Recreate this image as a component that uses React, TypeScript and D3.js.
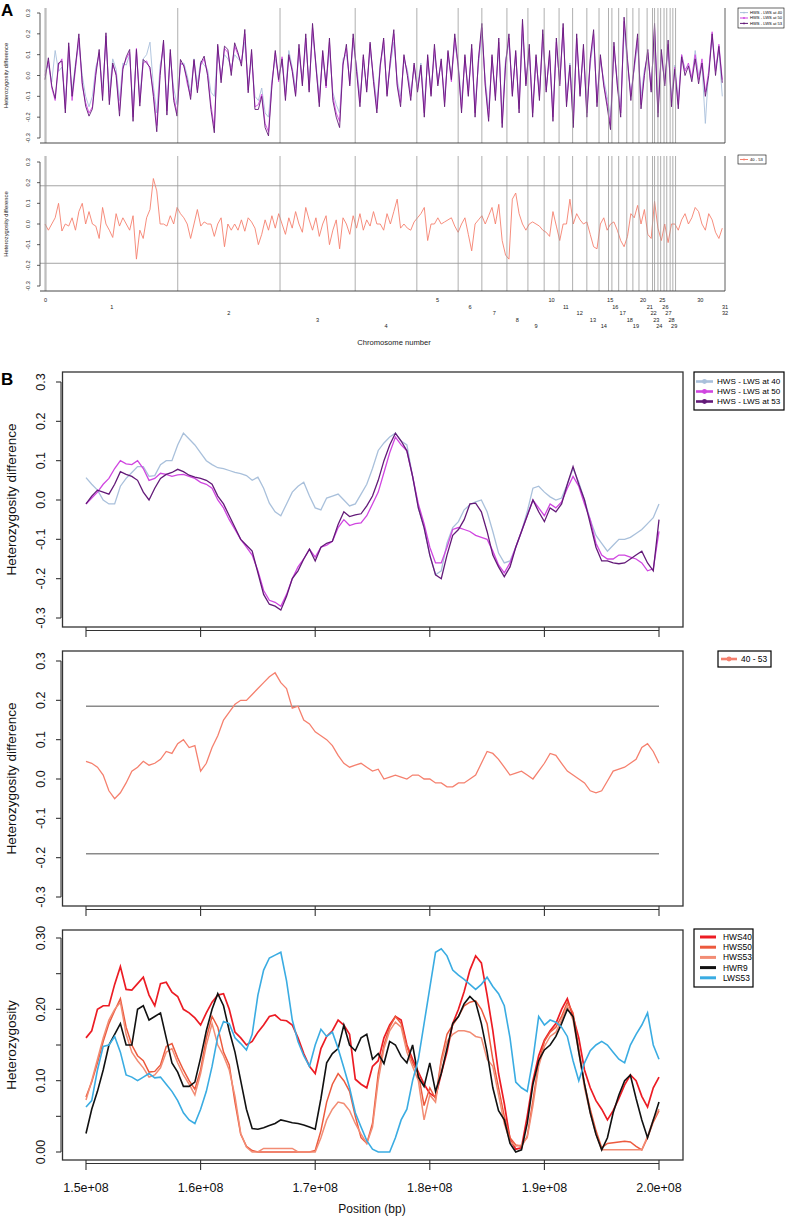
import React from 'react';
import * as d3 from 'd3';

const FONT = '"Liberation Sans", Arial, Helvetica, sans-serif';

// ---------- Panel A: genome-wide scan (5 Mb steps, cumulative Mb) ----------
const A_STEP_MB = 5;
const chromBoundsMb = [
  0, 1.5, 196, 347, 458, 549, 610, 645, 682, 713,
  737, 759, 779, 800, 818, 832, 837, 847, 859, 868,
  877, 889, 897, 900, 905, 909, 914, 918, 923, 927,
  931, 1004, 1004, 1004,
];
const chromNames = [
  '0', '1', '2', '3', '4', '5', '6', '7', '8', '9', '10', '11', '12', '13', '14', '15', '16',
  '17', '18', '19', '20', '21', '22', '23', '24', '25', '26', '27', '28', '29', '30', '31', '32',
];
const diffTicks = [-0.3, -0.2, -0.1, 0, 0.1, 0.2, 0.3];
const thresholds = [0.185, -0.19];

const genomeDiff53 = [
  -0.02, 0.085, -0.05, -0.11, 0.06, 0.07, -0.18, 0.157, -0.1, 0.045,
  0.2, -0.035, -0.147, -0.195, -0.16, 0.0, 0.125, -0.12, 0.205, -0.14,
  0.06, 0.0, -0.195, 0.03, 0.09, 0.125, -0.22, 0.125, -0.147, 0.077,
  0.06, 0.04, -0.1, -0.27, 0.0, 0.17, -0.19, 0.125, -0.12, -0.195,
  0.077, 0.045, -0.02, -0.115, 0.077, -0.083, 0.06, 0.093, 0.0, -0.163,
  -0.275, 0.15, -0.035, 0.141, 0.125, 0.0, 0.157, 0.109, 0.045, 0.221,
  -0.083, 0.125, -0.163, -0.163,
  -0.1, -0.25, -0.29, -0.05, 0.12, -0.02, 0.08, -0.12, 0.1, 0.02,
  -0.1, 0.15, -0.05, 0.2, -0.08, 0.25, 0.05, -0.15, 0.12, -0.05,
  0.18, -0.12, -0.2, -0.25, 0.05, 0.15, -0.05, 0.2, 0.02, -0.15,
  0.1, -0.08, 0.16, -0.03, -0.18, 0.05, 0.18, -0.1, 0.08, 0.22,
  -0.05, -0.15, 0.1, 0.0, -0.12, 0.06, -0.08,
  0.05, -0.2, 0.1, -0.1, 0.15, -0.05, 0.08, -0.15, 0.12, -0.02,
  0.2, 0.05, -0.18, 0.1, -0.1, 0.15, -0.2, 0.08, 0.25, -0.05,
  -0.22, 0.1, -0.12, 0.18, -0.25, 0.05, 0.2, -0.1, 0.12, -0.18,
  0.27, -0.05, 0.15, -0.2, 0.1, -0.12, 0.22, -0.08, 0.12, -0.22,
  0.18, -0.05, 0.25, -0.15, 0.05, -0.25, 0.2, -0.1, 0.15, -0.2,
  0.08, 0.22, -0.15, 0.1,
  -0.05, -0.15, -0.26, 0.16, -0.05, -0.2, 0.28, 0.08, -0.12, 0.05,
  0.2, -0.16, 0.0, 0.125, -0.08, 0.25, -0.2, 0.125, -0.05, 0.17,
  -0.15, 0.03, -0.16, 0.09, 0.0, 0.045, -0.03, 0.08, -0.04, 0.06,
  -0.1, 0.0, 0.2, 0.0, 0.14, -0.035,
];

const genomeDiff50 = [
  0.0, 0.07, -0.06, -0.12, 0.05, 0.08, -0.16, 0.14, -0.12, 0.03,
  0.18, -0.05, -0.13, -0.18, -0.15, 0.02, 0.11, -0.1, 0.19, -0.12,
  0.05, 0.01, -0.17, 0.04, 0.08, 0.11, -0.2, 0.13, -0.13, 0.06,
  0.07, 0.03, -0.08, -0.24, 0.02, 0.16, -0.17, 0.11, -0.1, -0.18,
  0.06, 0.05, -0.04, -0.1, 0.07, -0.07, 0.05, 0.08, 0.01, -0.14,
  -0.25, 0.14, -0.02, 0.13, 0.11, 0.02, 0.14, 0.1, 0.06, 0.2,
  -0.07, 0.11, -0.15, -0.14,
  -0.09, -0.23, -0.27, -0.04, 0.11, -0.03, 0.09, -0.1, 0.09, 0.03,
  -0.09, 0.13, -0.04, 0.18, -0.07, 0.23, 0.04, -0.13, 0.11, -0.06,
  0.16, -0.1, -0.18, -0.22, 0.06, 0.13, -0.04, 0.18, 0.03, -0.13,
  0.09, -0.07, 0.15, -0.02, -0.16, 0.04, 0.17, -0.09, 0.07, 0.2,
  -0.04, -0.13, 0.09, 0.01, -0.1, 0.05, -0.07,
  0.04, -0.18, 0.09, -0.09, 0.13, -0.04, 0.07, -0.13, 0.11, -0.03,
  0.18, 0.04, -0.16, 0.09, -0.09, 0.13, -0.18, 0.07, 0.23, -0.04,
  -0.2, 0.09, -0.1, 0.16, -0.23, 0.06, 0.18, -0.09, 0.11, -0.16,
  0.25, -0.04, 0.13, -0.18, 0.09, -0.1, 0.2, -0.07, 0.1, -0.2,
  0.16, -0.04, 0.23, -0.13, 0.04, -0.23, 0.18, -0.09, 0.13, -0.18,
  0.07, 0.2, -0.13, 0.09,
  -0.04, -0.13, -0.24, 0.14, -0.04, -0.18, 0.26, 0.07, -0.1, 0.04,
  0.18, -0.14, 0.01, 0.11, -0.07, 0.23, -0.18, 0.11, -0.04, 0.15,
  -0.13, 0.04, -0.14, 0.1, 0.02, 0.06, -0.01, 0.1, -0.02, 0.08,
  -0.08, 0.02, 0.21, 0.02, 0.15, -0.02,
];

const genomeDiff40 = [
  0.02, 0.05, -0.03, 0.12, 0.02, 0.04, -0.12, 0.1, -0.08, 0.06,
  0.15, 0.0, -0.1, -0.15, -0.1, 0.04, 0.1, -0.06, 0.16, -0.08,
  0.08, 0.03, -0.12, 0.06, 0.05, 0.1, -0.15, 0.1, -0.1, 0.08,
  0.1, 0.16, -0.05, -0.18, 0.05, 0.13, -0.12, 0.08, -0.06, -0.14,
  0.05, 0.06, 0.0, -0.08, 0.08, -0.04, 0.07, 0.05, 0.03, -0.08,
  -0.1, 0.12, 0.0, 0.1, 0.08, 0.04, 0.1, 0.08, 0.07, 0.16,
  -0.04, 0.08, -0.1, -0.12,
  -0.06, -0.18, -0.2, -0.02, 0.08, 0.0, 0.06, -0.08, 0.12, 0.04,
  -0.06, 0.1, -0.02, 0.15, -0.04, 0.2, 0.06, -0.1, 0.08, -0.03,
  0.12, -0.08, -0.14, -0.18, 0.08, 0.1, -0.02, 0.15, 0.05, -0.1,
  0.06, -0.05, 0.12, 0.0, -0.13, 0.06, 0.14, -0.06, 0.05, 0.16,
  -0.02, -0.1, 0.07, 0.03, -0.08, 0.04, -0.05,
  0.06, -0.14, 0.07, -0.06, 0.1, -0.02, 0.06, -0.1, 0.09, 0.0,
  0.15, 0.06, -0.12, 0.07, -0.06, 0.1, -0.14, 0.05, 0.2, -0.02,
  -0.16, 0.07, -0.08, 0.13, -0.2, 0.08, 0.15, -0.06, 0.09, -0.13,
  0.2, -0.02, 0.1, -0.15, 0.07, -0.08, 0.16, -0.05, 0.08, -0.16,
  0.13, -0.02, 0.2, -0.1, 0.06, -0.18, 0.15, -0.06, 0.1, -0.15,
  0.05, 0.17, -0.1, 0.07,
  -0.02, -0.1, -0.2, 0.12, -0.02, -0.15, 0.22, 0.05, -0.08, 0.03,
  0.15, -0.1, 0.03, 0.09, -0.05, 0.2, -0.15, 0.09, -0.02, 0.12,
  -0.1, 0.05, -0.12, 0.1, 0.03, 0.05, -0.02, 0.12, 0.0, 0.05,
  -0.23, 0.03, 0.18, 0.03, 0.12, -0.1,
];

const genomeDiff40vs53 = [
  0.0, -0.03, 0.0, 0.03, 0.1, -0.034, 0.0, -0.01, 0.03, -0.03,
  0.06, 0.1, 0.0, 0.06, 0.0, -0.01, -0.07, 0.08, 0.0, -0.03,
  -0.065, 0.05, -0.01, 0.03, 0.0, -0.03, 0.04, -0.17, -0.03, -0.07,
  0.03, 0.07, 0.22, 0.16, 0.0, 0.0, -0.01, 0.04, 0.0, 0.08,
  0.05, 0.03, 0.0, -0.07, 0.0, 0.07, -0.01, 0.01, 0.0, 0.0,
  -0.06, 0.0, 0.03, -0.11, 0.0, -0.03, 0.0, -0.03, 0.02, -0.035,
  0.03, 0.01, -0.02, -0.1,
  -0.05, 0.02, -0.03, 0.04, -0.02, 0.05, 0.0, -0.05, 0.03, -0.02,
  0.06, 0.0, -0.04, 0.08, 0.02, -0.03, 0.03, -0.06, 0.0, 0.04,
  -0.1, -0.03, 0.02, -0.12, 0.03, 0.0, -0.05, 0.04, -0.02, 0.05,
  -0.03, 0.02, -0.01, 0.06, 0.0,
  0.0, -0.03, 0.05, 0.0, 0.06, 0.12, -0.02, 0.0, -0.02, -0.03,
  0.01, 0.03, 0.05, 0.08, -0.08, 0.0, 0.0, 0.03, 0.0, 0.01,
  0.02, 0.03, -0.01, -0.04, 0.0, 0.03, -0.05, -0.13, 0.0, 0.02,
  0.04, 0.0, 0.04, 0.08, 0.0, 0.095, -0.08, -0.15, -0.17, 0.12,
  0.15, 0.05, 0.0, -0.03, 0.0, 0.01, 0.0, -0.01, -0.03, -0.04,
  -0.06, 0.06, -0.01, -0.08, 0.0, 0.0, 0.12, 0.0, 0.05, 0.02,
  0.0, 0.01, -0.05, -0.11, -0.12, 0.0, 0.03, -0.03, 0.0, 0.01,
  -0.03, -0.08, -0.11, -0.06, 0.05, 0.03, 0.09, 0.0, 0.07, -0.05,
  -0.07, 0.11, -0.02, -0.08, 0.0, -0.09, 0.0, 0.0, -0.03,
  0.02, 0.05, 0.0, 0.03, 0.08, 0.06, 0.0, -0.03, 0.05, 0.02,
  -0.04, -0.07, -0.02,
];

// ---------- Panel B: chromosome 1, 150-200 Mb, 0.5 Mb steps ----------
const regionStartMb = 150;
const REGION_STEP_MB = 0.5;
const positionTicks = [1.5e8, 1.6e8, 1.7e8, 1.8e8, 1.9e8, 2.0e8];
const positionTickLabels = ['1.5e+08', '1.6e+08', '1.7e+08', '1.8e+08', '1.9e+08', '2.0e+08'];
const hetTicks = [0, 0.05, 0.1, 0.15, 0.2, 0.25, 0.3];
const hetTickLabels = ['0.00', '', '0.10', '', '0.20', '', '0.30'];

const regionDiff40 = [
  0.057, 0.04, 0.025, 0.0, -0.01, -0.01, 0.035, 0.055, 0.07, 0.085,
  0.085, 0.06, 0.062, 0.09, 0.1, 0.1, 0.14, 0.17, 0.155, 0.14,
  0.12, 0.1, 0.09, 0.082, 0.08, 0.075, 0.07, 0.067, 0.062, 0.05,
  0.058, 0.03, -0.008, -0.03, -0.04, -0.01, 0.02, 0.035, 0.045, 0.01,
  -0.02, -0.025, 0.005, 0.01, 0.015, 0.0, -0.015, -0.01, 0.015, 0.04,
  0.08, 0.126, 0.145, 0.16, 0.17, 0.15, 0.14, 0.06, -0.02, -0.07,
  -0.14, -0.19, -0.18, -0.11, -0.07, -0.055, -0.025, -0.012, -0.005, 0.0,
  -0.03, -0.08, -0.135, -0.16, -0.155, -0.12, -0.08, -0.03, 0.03, 0.035,
  0.02, 0.008, 0.0, 0.005, 0.04, 0.08, 0.045, 0.0, -0.05, -0.09,
  -0.11, -0.13, -0.115, -0.1, -0.1, -0.095, -0.085, -0.075, -0.06, -0.045,
  -0.01,
];
const regionDiff50 = [
  -0.01, 0.005, 0.02, 0.04, 0.055, 0.08, 0.1, 0.092, 0.09, 0.1,
  0.08, 0.05, 0.055, 0.068, 0.065, 0.06, 0.064, 0.065, 0.06, 0.055,
  0.045, 0.04, 0.03, 0.0, -0.02, -0.05, -0.075, -0.1, -0.12, -0.14,
  -0.18, -0.23, -0.255, -0.26, -0.27, -0.24, -0.2, -0.17, -0.15, -0.125,
  -0.145, -0.12, -0.115, -0.105, -0.07, -0.05, -0.065, -0.06, -0.058, -0.04,
  -0.01, 0.02, 0.07, 0.12, 0.16, 0.14, 0.125, 0.06, -0.01, -0.06,
  -0.12, -0.16, -0.16, -0.12, -0.075, -0.07, -0.075, -0.08, -0.09, -0.095,
  -0.1, -0.13, -0.165, -0.185, -0.16, -0.12, -0.08, -0.04, 0.0, -0.02,
  -0.04, -0.01, -0.02, -0.005, 0.03, 0.06, 0.035, -0.01, -0.05, -0.11,
  -0.14, -0.15, -0.15, -0.14, -0.14, -0.145, -0.15, -0.16, -0.18, -0.175,
  -0.08,
];
const regionDiff53 = [
  -0.01, 0.01, 0.025, 0.02, 0.015, 0.04, 0.072, 0.065, 0.06, 0.05,
  0.02, 0.0, 0.03, 0.055, 0.065, 0.07, 0.078, 0.072, 0.063, 0.058,
  0.055, 0.05, 0.04, 0.01, -0.01, -0.04, -0.07, -0.1, -0.115, -0.13,
  -0.185, -0.24, -0.265, -0.27, -0.28, -0.245, -0.2, -0.18, -0.15, -0.125,
  -0.155, -0.12, -0.11, -0.105, -0.062, -0.03, -0.042, -0.038, -0.035, -0.015,
  0.01, 0.05, 0.1, 0.14, 0.17, 0.15, 0.125, 0.06, -0.02, -0.07,
  -0.14, -0.19, -0.2, -0.14, -0.09, -0.075, -0.05, -0.01, -0.008, -0.03,
  -0.08, -0.14, -0.17, -0.195, -0.17, -0.12, -0.08, -0.04, 0.0, -0.03,
  -0.055, -0.02, -0.03, -0.01, 0.04, 0.085, 0.04, 0.0, -0.06, -0.12,
  -0.155, -0.155, -0.16, -0.162, -0.16, -0.15, -0.14, -0.13, -0.16, -0.18,
  -0.05,
];
const regionDiff40vs53 = [
  0.045, 0.04, 0.03, 0.01, -0.03, -0.05, -0.035, -0.01, 0.02, 0.03,
  0.045, 0.035, 0.04, 0.05, 0.07, 0.065, 0.09, 0.1, 0.08, 0.085,
  0.02, 0.04, 0.08, 0.11, 0.15, 0.17, 0.19, 0.2, 0.2, 0.215,
  0.23, 0.245, 0.26, 0.27, 0.245, 0.23, 0.18, 0.185, 0.15, 0.14,
  0.12, 0.11, 0.1, 0.085, 0.06, 0.04, 0.03, 0.035, 0.04, 0.03,
  0.02, 0.025, 0.0, 0.005, 0.01, 0.005, 0.0, 0.01, 0.01, 0.0,
  0.0, -0.01, -0.01, -0.02, -0.02, -0.01, -0.01, 0.0, 0.01, 0.04,
  0.07, 0.065, 0.05, 0.03, 0.01, 0.015, 0.02, 0.01, 0.0, 0.02,
  0.04, 0.065, 0.06, 0.04, 0.02, 0.01, 0.0, -0.01, -0.03, -0.035,
  -0.03, -0.005, 0.02, 0.025, 0.03, 0.04, 0.05, 0.08, 0.09, 0.07,
  0.04,
];

const hetHWS40 = [
  0.16, 0.17, 0.2, 0.205, 0.205, 0.235, 0.26, 0.228, 0.227, 0.236,
  0.245, 0.22, 0.205, 0.236, 0.238, 0.224, 0.218, 0.2, 0.195, 0.188,
  0.178, 0.195, 0.21, 0.22, 0.222, 0.2, 0.168, 0.16, 0.15, 0.155,
  0.168, 0.178, 0.19, 0.192, 0.185, 0.184, 0.178, 0.16, 0.138, 0.12,
  0.11, 0.145, 0.162, 0.17, 0.185, 0.178, 0.165, 0.102, 0.095, 0.09,
  0.12, 0.128, 0.16, 0.178, 0.19, 0.185, 0.15, 0.13, 0.112, 0.095,
  0.082, 0.077, 0.11, 0.14, 0.18, 0.2, 0.225, 0.255, 0.275, 0.265,
  0.22, 0.17, 0.11, 0.068, 0.018, 0.004, 0.006, 0.05, 0.1, 0.135,
  0.157, 0.17, 0.18, 0.2, 0.215, 0.19, 0.16, 0.115, 0.09, 0.072,
  0.06, 0.045, 0.058, 0.075, 0.094, 0.108, 0.1, 0.078, 0.063, 0.09,
  0.105,
];
const hetHWS50 = [
  0.077, 0.098, 0.125, 0.155, 0.18, 0.198, 0.215, 0.175, 0.15, 0.135,
  0.128, 0.112, 0.113, 0.122, 0.148, 0.152, 0.132, 0.115, 0.1, 0.088,
  0.115, 0.16, 0.19, 0.175, 0.14, 0.122, 0.07, 0.025, 0.008, 0.002,
  0.0, 0.0, 0.0, 0.0, 0.0, 0.0, 0.0, 0.0, 0.0, 0.0,
  0.002, 0.03, 0.07, 0.095, 0.11, 0.1, 0.085, 0.05, 0.02, 0.012,
  0.04, 0.11, 0.15, 0.175, 0.19, 0.18, 0.148, 0.125, 0.11, 0.065,
  0.09, 0.075, 0.13, 0.165, 0.178, 0.19, 0.205, 0.21, 0.212, 0.2,
  0.18, 0.13, 0.09, 0.05, 0.02, 0.01, 0.008, 0.022, 0.072, 0.125,
  0.155, 0.168, 0.175, 0.19, 0.21, 0.195, 0.145, 0.095, 0.06, 0.03,
  0.006, 0.012, 0.013, 0.014, 0.015, 0.014, 0.008, 0.003, 0.02, 0.042,
  0.058,
];
const hetHWS53 = [
  0.073, 0.1, 0.13, 0.16, 0.185, 0.2, 0.21, 0.165, 0.14, 0.128,
  0.118, 0.105, 0.108, 0.118, 0.14, 0.145, 0.125, 0.108, 0.095, 0.08,
  0.11, 0.15, 0.18, 0.15, 0.135, 0.115, 0.078, 0.026, 0.007, 0.0,
  0.0, 0.005, 0.005, 0.005, 0.005, 0.005, 0.005, 0.0, 0.0, 0.0,
  0.0, 0.02, 0.045, 0.06, 0.07, 0.068, 0.058, 0.04, 0.025, 0.012,
  0.035, 0.1, 0.145, 0.17, 0.182, 0.175, 0.14, 0.12, 0.1, 0.045,
  0.08, 0.07, 0.125, 0.155, 0.165, 0.17, 0.17, 0.168, 0.162, 0.16,
  0.13, 0.12, 0.08, 0.04, 0.015, 0.008, 0.01, 0.02, 0.065, 0.12,
  0.148, 0.162, 0.168, 0.185, 0.205, 0.185, 0.14, 0.09, 0.055, 0.025,
  0.003, 0.003, 0.003, 0.003, 0.003, 0.003, 0.003, 0.003, 0.022, 0.045,
  0.06,
];
const hetHWR9 = [
  0.026, 0.06, 0.085, 0.115, 0.15, 0.165, 0.18, 0.15, 0.15, 0.2,
  0.205, 0.185, 0.19, 0.195, 0.16, 0.125, 0.112, 0.092, 0.092, 0.098,
  0.132, 0.17, 0.2, 0.222, 0.205, 0.17, 0.14, 0.1, 0.06, 0.033,
  0.032, 0.034, 0.037, 0.04, 0.045, 0.043, 0.041, 0.04, 0.038, 0.035,
  0.032, 0.075, 0.125, 0.138, 0.145, 0.178, 0.15, 0.142, 0.16, 0.165,
  0.13, 0.138, 0.124, 0.155, 0.15, 0.134, 0.125, 0.15, 0.105, 0.092,
  0.125, 0.085, 0.11, 0.145, 0.18, 0.19, 0.208, 0.218, 0.21, 0.18,
  0.14, 0.09, 0.058, 0.045, 0.012, 0.0, 0.003, 0.04, 0.095, 0.128,
  0.143, 0.15, 0.162, 0.18, 0.2, 0.19, 0.14, 0.095, 0.055, 0.025,
  0.003, 0.02, 0.055, 0.08, 0.1, 0.108, 0.075, 0.045, 0.02, 0.045,
  0.07,
];
const hetLWS53 = [
  0.063, 0.072, 0.115, 0.148, 0.15, 0.162, 0.14, 0.108, 0.105, 0.1,
  0.105, 0.11, 0.104, 0.105, 0.095, 0.085, 0.072, 0.055, 0.045, 0.04,
  0.06, 0.085, 0.12, 0.162, 0.183, 0.18, 0.16, 0.152, 0.143, 0.165,
  0.22, 0.255, 0.272, 0.276, 0.28, 0.24, 0.185, 0.155, 0.135, 0.12,
  0.15, 0.172, 0.162, 0.168, 0.145, 0.118, 0.09, 0.055, 0.035, 0.016,
  0.004, 0.0, 0.0, 0.0, 0.02, 0.045, 0.06, 0.1, 0.13, 0.18,
  0.23, 0.28, 0.285, 0.275, 0.255, 0.248, 0.242, 0.235, 0.228, 0.235,
  0.245, 0.232, 0.222, 0.205, 0.16, 0.098, 0.09, 0.085, 0.13, 0.19,
  0.178, 0.185, 0.182, 0.175, 0.162, 0.128, 0.1, 0.125, 0.142, 0.15,
  0.155, 0.15, 0.14, 0.13, 0.125, 0.15, 0.165, 0.178, 0.195, 0.15,
  0.13,
];

const C = {
  d40: '#a9c0db',
  d50: '#d046e0',
  d53: '#631a78',
  d4053: '#f5806e',
  hws40: '#ec1c24',
  hws50: '#ec5a3e',
  hws53: '#f28c74',
  hwr9: '#111111',
  lws53: '#3aace2',
  grid: '#9a9a9a',
  axis: '#333333',
};

// scales
const xA = d3.scaleLinear().domain([0, 1004]).range([45, 725]);
const yATop = d3.scaleLinear().domain([-0.3, 0.3]).range([138, 13]);
const yABot = d3.scaleLinear().domain([-0.3, 0.3]).range([286, 162]);

const xB = d3.scaleLinear().domain([1.5e8, 2.0e8]).range([86, 659]);
const yBTop = d3.scaleLinear().domain([-0.3, 0.3]).range([618, 382]);
const yBMid = d3.scaleLinear().domain([-0.3, 0.3]).range([897, 661]);
const yBBot = d3.scaleLinear().domain([0, 0.3]).range([1152, 938]);

const genomePath = (vals: number[], y: d3.ScaleLinear<number, number>) =>
  d3.line<number>().x((_, i) => xA(i * A_STEP_MB)).y(d => y(d))(vals) || '';

const regionPath = (vals: number[], y: d3.ScaleLinear<number, number>) =>
  d3.line<number>().x((_, i) => xB((regionStartMb + i * REGION_STEP_MB) * 1e6)).y(d => y(d))(vals) || '';

type LegendItem = { label: string; color: string };

const Legend = ({ x, y, w, h, items, row0, rowStep, pad, lineLen, gap, fontSize, lw, dot }: {
  x: number; y: number; w: number; h: number; items: LegendItem[]; row0: number; rowStep: number;
  pad: number; lineLen: number; gap: number; fontSize: number; lw: number; dot: number;
}) => (
  <g transform={`translate(${x},${y})`}>
    <rect width={w} height={h} fill="#fff" stroke="#000" strokeWidth={fontSize > 6 ? 1.2 : 0.6} />
    {items.map((it, i) => (
      <g key={it.label} transform={`translate(0,${row0 + i * rowStep})`}>
        <line x1={pad} x2={pad + lineLen} stroke={it.color} strokeWidth={lw} />
        {dot > 0 && <circle cx={pad + lineLen / 2} r={dot} fill={it.color} />}
        <text x={pad + lineLen + gap} dy="0.35em" fontSize={fontSize} fill="#000">{it.label}</text>
      </g>
    ))}
  </g>
);

const GenomePanel = ({ y, top, bottom, children }: {
  y: d3.ScaleLinear<number, number>; top: number; bottom: number; children: React.ReactNode;
}) => (
  <g>
    {children}
    {chromBoundsMb.map((b, i) => (
      <line key={`cb-${i}`} x1={xA(b)} x2={xA(b)} y1={top} y2={bottom} stroke={C.grid} strokeWidth={0.8} />
    ))}
    <line x1={40} x2={725} y1={bottom} y2={bottom} stroke={C.axis} strokeWidth={0.9} />
    <line x1={40} x2={40} y1={y(0.3)} y2={y(-0.3)} stroke={C.axis} strokeWidth={0.8} />
    {diffTicks.map(t => (
      <g key={`at-${t}`}>
        <line x1={37} x2={40} y1={y(t)} y2={y(t)} stroke={C.axis} strokeWidth={0.8} />
        <text transform={`translate(30,${y(t)}) rotate(-90)`} textAnchor="middle" fontSize={5.6} fill="#222">
          {t.toFixed(1)}
        </text>
      </g>
    ))}
    <text transform={`translate(8,${(y(0.3) + y(-0.3)) / 2}) rotate(-90)`} textAnchor="middle" fontSize={5.8} fill="#222">
      Heterozygosity difference
    </text>
  </g>
);

const RegionFrame = ({ y, top, bottom, ticks, labels, yLabel, children }: {
  y: d3.ScaleLinear<number, number>; top: number; bottom: number; ticks: number[]; labels: string[];
  yLabel: string; children: React.ReactNode;
}) => {
  const lo = y(ticks[0]);
  const hi = y(ticks[ticks.length - 1]);
  return (
    <g>
      {children}
      <rect x={62.5} y={top} width={683 - 62.5} height={bottom - top} fill="none" stroke={C.axis} strokeWidth={1.3} />
      <line x1={61} x2={61} y1={lo} y2={hi} stroke={C.axis} strokeWidth={1.1} />
      {ticks.map((t, i) => (
        <g key={`yt-${i}`}>
          <line x1={56} x2={61} y1={y(t)} y2={y(t)} stroke={C.axis} strokeWidth={1.1} />
          {labels[i] && (
            <text transform={`translate(45,${y(t)}) rotate(-90)`} textAnchor="middle" fontSize={12.5} fill="#111">
              {labels[i]}
            </text>
          )}
        </g>
      ))}
      <line x1={xB(1.5e8)} x2={xB(2.0e8)} y1={bottom + 3.5} y2={bottom + 3.5} stroke={C.axis} strokeWidth={1.1} />
      {positionTicks.map(t => (
        <line key={`xt-${t}`} x1={xB(t)} x2={xB(t)} y1={bottom} y2={bottom + 10} stroke={C.axis} strokeWidth={1.1} />
      ))}
      <text transform={`translate(15.5,${(top + bottom) / 2}) rotate(-90)`} textAnchor="middle" fontSize={13.5} fill="#111">
        {yLabel}
      </text>
    </g>
  );
};

const diffLabels = diffTicks.map(t => t.toFixed(1));

export default function App() {
  return (
    <svg width={787} height={1216} style={{ position: 'absolute', left: 0, top: 0, background: '#fff' }} fontFamily={FONT}>
      <rect width={787} height={1216} fill="#fff" />

      {/* ---------------- Panel A ---------------- */}
      <text x={1} y={16} fontSize={17} fontWeight="bold">A</text>

      <GenomePanel y={yATop} top={8} bottom={143}>
        <path d={genomePath(genomeDiff40, yATop)} fill="none" stroke={C.d40} strokeWidth={0.9} />
        <path d={genomePath(genomeDiff50, yATop)} fill="none" stroke={C.d50} strokeWidth={0.9} />
        <path d={genomePath(genomeDiff53, yATop)} fill="none" stroke={C.d53} strokeWidth={0.9} />
      </GenomePanel>

      <GenomePanel y={yABot} top={156} bottom={291}>
        {thresholds.map(t => (
          <line key={`ath-${t}`} x1={40} x2={725} y1={yABot(t)} y2={yABot(t)} stroke={C.grid} strokeWidth={0.9} />
        ))}
        <path d={genomePath(genomeDiff40vs53, yABot)} fill="none" stroke={C.d4053} strokeWidth={0.9} />
      </GenomePanel>

      {chromNames.map((name, i) => (
        <text key={`cn-${name}`} x={xA((chromBoundsMb[i] + chromBoundsMb[i + 1]) / 2)} y={302 + (i % 5) * 6.5}
          textAnchor="middle" fontSize={5.6} fill="#222">
          {name}
        </text>
      ))}
      <text x={394} y={345} textAnchor="middle" fontSize={7.6} fill="#222">Chromosome number</text>

      <Legend x={738} y={8} w={46} h={20} row0={4.6} rowStep={5.4} pad={2} lineLen={8} gap={2}
        fontSize={4.1} lw={1} dot={0.9}
        items={[
          { label: 'HWS - LWS at 40', color: C.d40 },
          { label: 'HWS - LWS at 50', color: C.d50 },
          { label: 'HWS - LWS at 53', color: C.d53 },
        ]} />
      <Legend x={738} y={155} w={28} h={9} row0={4.5} rowStep={0} pad={2} lineLen={8} gap={2}
        fontSize={4.1} lw={1} dot={0.9}
        items={[{ label: '40 - 53', color: C.d4053 }]} />

      {/* ---------------- Panel B ---------------- */}
      <text x={1} y={385} fontSize={17} fontWeight="bold">B</text>

      <RegionFrame y={yBTop} top={372} bottom={627} ticks={diffTicks} labels={diffLabels} yLabel="Heterozygosity difference">
        <path d={regionPath(regionDiff40, yBTop)} fill="none" stroke={C.d40} strokeWidth={1.3} />
        <path d={regionPath(regionDiff50, yBTop)} fill="none" stroke={C.d50} strokeWidth={1.3} />
        <path d={regionPath(regionDiff53, yBTop)} fill="none" stroke={C.d53} strokeWidth={1.3} />
      </RegionFrame>
      <Legend x={694} y={372} w={90} h={38} row0={9.5} rowStep={10} pad={2} lineLen={17} gap={4}
        fontSize={8.1} lw={2.6} dot={2.4}
        items={[
          { label: 'HWS - LWS at 40', color: C.d40 },
          { label: 'HWS - LWS at 50', color: C.d50 },
          { label: 'HWS - LWS at 53', color: C.d53 },
        ]} />

      <RegionFrame y={yBMid} top={651} bottom={906} ticks={diffTicks} labels={diffLabels} yLabel="Heterozygosity difference">
        {thresholds.map(t => (
          <line key={`bth-${t}`} x1={xB(1.5e8)} x2={xB(2.0e8)} y1={yBMid(t)} y2={yBMid(t)} stroke="#8a8a8a" strokeWidth={1.3} />
        ))}
        <path d={regionPath(regionDiff40vs53, yBMid)} fill="none" stroke={C.d4053} strokeWidth={1.3} />
      </RegionFrame>
      <Legend x={718} y={651} w={53} h={16} row0={8} rowStep={0} pad={3} lineLen={16} gap={4}
        fontSize={8.4} lw={2.6} dot={2.4}
        items={[{ label: '40 - 53', color: C.d4053 }]} />

      <RegionFrame y={yBBot} top={930} bottom={1160} ticks={hetTicks} labels={hetTickLabels} yLabel="Heterozygosity">
        <path d={regionPath(hetHWS40, yBBot)} fill="none" stroke={C.hws40} strokeWidth={1.7} />
        <path d={regionPath(hetHWS50, yBBot)} fill="none" stroke={C.hws50} strokeWidth={1.5} />
        <path d={regionPath(hetHWS53, yBBot)} fill="none" stroke={C.hws53} strokeWidth={1.5} />
        <path d={regionPath(hetHWR9, yBBot)} fill="none" stroke={C.hwr9} strokeWidth={1.6} />
        <path d={regionPath(hetLWS53, yBBot)} fill="none" stroke={C.lws53} strokeWidth={1.6} />
      </RegionFrame>
      {positionTicks.map((t, i) => (
        <text key={`xl-${t}`} x={xB(t)} y={1192} textAnchor="middle" fontSize={12.5} fill="#111">
          {positionTickLabels[i]}
        </text>
      ))}
      <text x={372} y={1213} textAnchor="middle" fontSize={12} fill="#111">Position (bp)</text>
      <Legend x={694} y={929} w={59} h={58} row0={8} rowStep={10.2} pad={6} lineLen={16} gap={7}
        fontSize={8.4} lw={3} dot={0}
        items={[
          { label: 'HWS40', color: C.hws40 },
          { label: 'HWS50', color: C.hws50 },
          { label: 'HWS53', color: C.hws53 },
          { label: 'HWR9', color: C.hwr9 },
          { label: 'LWS53', color: C.lws53 },
        ]} />
    </svg>
  );
}
